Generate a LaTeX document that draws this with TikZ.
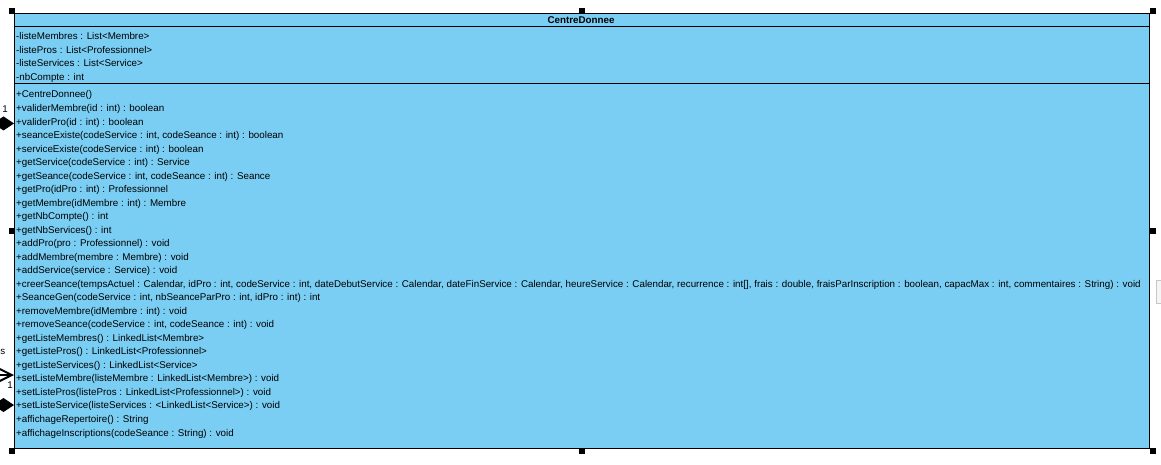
\documentclass[tikz,border=0pt]{standalone}
\usepackage{fontspec}
\setmainfont{Liberation Sans}
\usetikzlibrary{arrows.meta}
\definecolor{classblue}{RGB}{122,206,244}

\begin{document}
\begin{tikzpicture}[x=1pt,y=-1pt,
    member/.style={anchor=base west,inner sep=0pt,font=\fontsize{9.8}{11}\selectfont},
    handle/.style={fill=black,minimum size=6pt,inner sep=0pt},
    mult/.style={inner sep=0pt,font=\fontsize{9.8}{11}\selectfont}]
  \useasboundingbox (0,0) rectangle (1161,465);
  % class box
  \node[draw,fill=classblue,line width=1pt,minimum width=1135pt,minimum height=435pt,
        anchor=north west,inner sep=0pt] (cls) at (14,13) {};
  \coordinate (sep1) at (0,27);
  \coordinate (sep2) at (0,84);
  \draw[line width=1pt] (cls.west |- sep1) -- (cls.east |- sep1);
  \draw[line width=1pt] (cls.west |- sep2) -- (cls.east |- sep2);
  \node[member,anchor=base,font=\fontsize{9.8}{11}\selectfont\bfseries] (title) at (581,23.5) {CentreDonnee};
  % attributes
  \foreach \txt [count=\i from 0] in {
      {-listeMembres : List<Membre>},
      {-listePros : List<Professionnel>},
      {-listeServices : List<Service>},
      {-nbCompte : int}}
    \node[member] (a\i) at (16,{40+13.5*\i}) {\txt};
  % methods
  \foreach \txt [count=\i from 0] in {
      {+CentreDonnee()},
      {+validerMembre(id : int) : boolean},
      {+validerPro(id : int) : boolean},
      {+seanceExiste(codeService : int, codeSeance : int) : boolean},
      {+serviceExiste(codeService : int) : boolean},
      {+getService(codeService : int) : Service},
      {+getSeance(codeService : int, codeSeance : int) : Seance},
      {+getPro(idPro : int) : Professionnel},
      {+getMembre(idMembre : int) : Membre},
      {+getNbCompte() : int},
      {+getNbServices() : int},
      {+addPro(pro : Professionnel) : void},
      {+addMembre(membre : Membre) : void},
      {+addService(service : Service) : void},
      {+creerSeance(tempsActuel : Calendar, idPro : int, codeService : int, dateDebutService : Calendar, dateFinService : Calendar, heureService : Calendar, recurrence : int[], frais : double, fraisParInscription : boolean, capacMax : int, commentaires : String) : void},
      {+SeanceGen(codeService : int, nbSeanceParPro : int, idPro : int) : int},
      {+removeMembre(idMembre : int) : void},
      {+removeSeance(codeService : int, codeSeance : int) : void},
      {+getListeMembres() : LinkedList<Membre>},
      {+getListePros() : LinkedList<Professionnel>},
      {+getListeServices() : LinkedList<Service>},
      {+setListeMembre(listeMembre : LinkedList<Membre>) : void},
      {+setListePros(listePros : LinkedList<Professionnel>) : void},
      {+setListeService(listeServices : <LinkedList<Service>) : void},
      {+affichageRepertoire() : String},
      {+affichageInscriptions(codeSeance : String) : void}}
    \node[member] (m\i) at (16,{98+13.52*\i}) {\txt};
  % associations coming in from the left
  \coordinate (end1) at (-40,123.5);
  \coordinate (end2) at (-40,375);
  \coordinate (end3) at (-40,405);
  \draw[line width=1pt,-{Diamond[length=21pt,width=14pt]}] (end1) -- (cls.west |- end1);
  \draw[line width=2pt,-{Straight Barb[length=13pt,width=13pt]}] (end2) -- (cls.west |- end2);
  \draw[line width=1pt,-{Diamond[length=21pt,width=14pt]}] (end3) -- (cls.west |- end3);
  \node[mult] (mult1) at (5,109.5) {1};
  \node[mult] (mult2) at (10,385) {1};
  \node[mult,anchor=east] (role2) at (5.5,352) {s};
  % selection handles
  \foreach \p [count=\k] in {(12,11),(582,11),(1153,11),(12,231),(1153,231),(12,451),(582,451),(1153,451)}
    \node[handle] (h\k) at \p {};
  % scroll tab at the right edge
  \draw[gray!45,fill=gray!8] (1156,280) rectangle (1165,303);
\end{tikzpicture}
\end{document}
